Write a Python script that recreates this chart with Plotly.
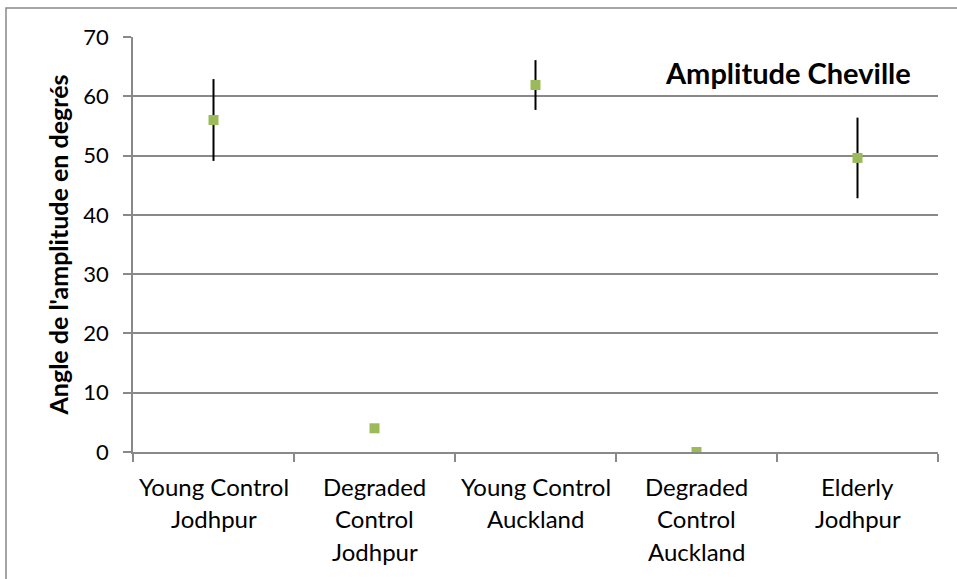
import plotly.graph_objects as go

categories = ["Young Control Jodhpur", "Degraded Control Jodhpur", "Young Control Auckland",
              "Degraded Control Auckland", "Elderly Jodhpur"]
label_lines = [["Young Control", "Jodhpur"], ["Degraded", "Control", "Jodhpur"],
               ["Young Control", "Auckland"], ["Degraded", "Control", "Auckland"],
               ["Elderly", "Jodhpur"]]
values = [56.0, 4.0, 61.9, 0.0, 49.6]
errors = [6.9, 0.0, 4.2, 0.0, 6.8]
y_ticks = [0, 10, 20, 30, 40, 50, 60, 70]

W, H = 957, 579
L, R, T, B = 133, 19, 37, 127
pw, ph = W - L - R, H - T - B

FONT = "Lato"
GRID = "#898989"

fig = go.Figure()
fig.add_trace(go.Scatter(
    x=categories, y=values, mode="markers",
    marker=dict(symbol="square", size=10, color="#9BBB59"),
    error_y=dict(type="data", array=errors, visible=True, color="black", thickness=2, width=0),
    showlegend=False, hoverinfo="skip",
))

annotations = []
for cat, lines in zip(categories, label_lines):
    for i, ln in enumerate(lines):
        annotations.append(dict(
            x=cat, xref="x", y=0, yref="paper", yanchor="top", yshift=-18 - 32.3 * i,
            text=ln, showarrow=False, font=dict(family=FONT, size=24, color="black"),
        ))

annotations.append(dict(
    x=(788 - L) / pw, xref="paper", y=(H - B - 72) / ph, yref="paper",
    xanchor="center", yanchor="middle", text="<b>Amplitude Cheville</b>", showarrow=False,
    font=dict(family=FONT, size=29, color="black"),
))

# outer chart border
shapes = [dict(type="rect", xref="paper", yref="paper",
               x0=(6 - L) / pw, x1=(965 - L) / pw, y0=(H - B - 590) / ph, y1=(H - B - 8) / ph,
               line=dict(color="#888888", width=1.5), fillcolor="rgba(0,0,0,0)", layer="below")]

fig.update_layout(
    width=W, height=H, margin=dict(l=L, r=R, t=T, b=B),
    paper_bgcolor="white", plot_bgcolor="white",
    font=dict(family=FONT, color="black"),
    annotations=annotations, shapes=shapes,
    xaxis=dict(
        type="category", categoryorder="array", categoryarray=categories,
        showticklabels=False, showgrid=False, zeroline=False,
        showline=True, linecolor=GRID, linewidth=1.5,
        ticks="outside", tickson="boundaries", ticklen=8, tickcolor=GRID, tickwidth=1.5,
        range=[-0.5, 4.5],
    ),
    yaxis=dict(
        range=[0, 70], tickvals=y_ticks, ticktext=[str(v) for v in y_ticks],
        tickfont=dict(family=FONT, size=22, color="black"), ticklabelstandoff=10,
        showgrid=True, gridcolor=GRID, gridwidth=1.5, zeroline=False,
        showline=True, linecolor=GRID, linewidth=1.5,
        ticks="outside", ticklen=8, tickcolor=GRID, tickwidth=1.5,
        title=dict(text="<b>Angle de l'amplitude en degrés</b>",
                   font=dict(family=FONT, size=25, color="black"), standoff=8),
    ),
)

fig.write_html("out.html", config={"displayModeBar": False},
               post_script="document.body.style.margin='0';")
